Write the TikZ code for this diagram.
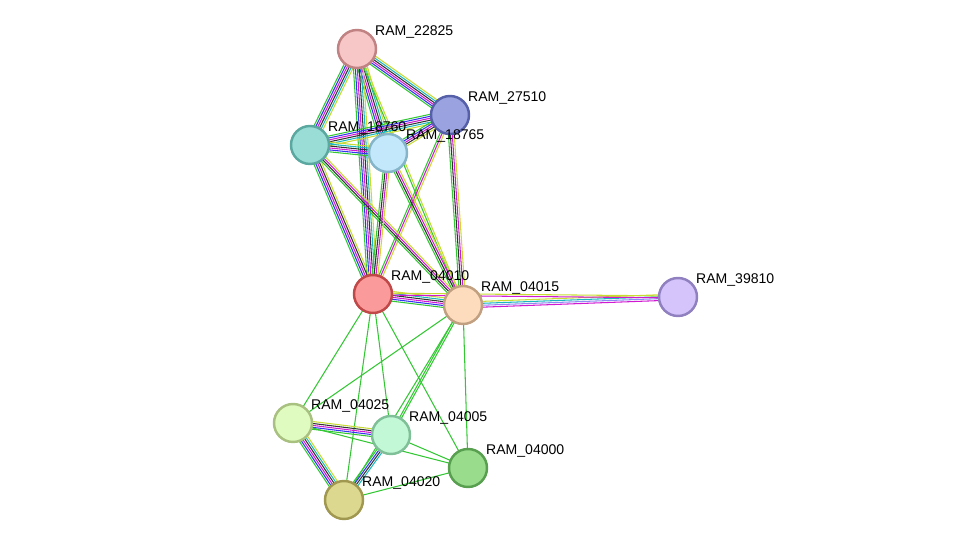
\documentclass[tikz,border=0pt]{standalone}
\usepackage{fontspec}
\setmainfont{Liberation Sans}
\usetikzlibrary{calc,backgrounds}
\definecolor{cgreen}{rgb}{0.2,0.78,0.2}
\definecolor{cblue}{rgb}{0.2,0.2,0.95}
\definecolor{cblack}{rgb}{0.2,0.2,0.2}
\definecolor{cmag}{rgb}{0.82,0.1,0.82}
\definecolor{ccyan}{rgb}{0.1,0.72,0.75}
\definecolor{cyel}{rgb}{0.78,0.86,0.2}
\definecolor{cpur}{rgb}{0.55,0.55,0.95}
\definecolor{f22825}{HTML}{F7C6C6}\definecolor{d22825}{HTML}{C08282}
\definecolor{f27510}{HTML}{9AA3E0}\definecolor{d27510}{HTML}{5560A8}
\definecolor{f18760}{HTML}{99DDD6}\definecolor{d18760}{HTML}{5AA8A0}
\definecolor{f18765}{HTML}{C4E8FB}\definecolor{d18765}{HTML}{85B5C8}
\definecolor{f04010}{HTML}{FB9A9A}\definecolor{d04010}{HTML}{C04848}
\definecolor{f04015}{HTML}{FDDCBD}\definecolor{d04015}{HTML}{C0A080}
\definecolor{f39810}{HTML}{D4C4FB}\definecolor{d39810}{HTML}{9080C0}
\definecolor{f04025}{HTML}{E0FBBF}\definecolor{d04025}{HTML}{A8C080}
\definecolor{f04005}{HTML}{C2F8D6}\definecolor{d04005}{HTML}{80C098}
\definecolor{f04000}{HTML}{98DC8C}\definecolor{d04000}{HTML}{58A050}
\definecolor{f04020}{HTML}{DCD890}\definecolor{d04020}{HTML}{A09850}
\tikzset{
  prot/.style={circle,minimum size=0.76cm,inner sep=0pt,line width=1.4pt,fill=f#1,draw=d#1},
  lbl/.style={font=\fontsize{8}{9.5}\selectfont,inner sep=1pt,xshift=1pt,yshift=-3pt}
}
\newcommand\sedge[3]{%
  \foreach \c [count=\n] in {#3} {\xdef\ncol{\n}}
  \foreach \c [count=\i] in {#3} {
    \pgfmathsetmacro\off{(\i-(\ncol+1)/2)*1.1}
    \draw[\c,line width=0.6pt] ($(#1)!\off pt!90:(#2)$) -- ($(#2)!\off pt!-90:(#1)$);
  }
}
\begin{document}
\begin{tikzpicture}
\useasboundingbox (0,0) rectangle (19.5,10.92);
\node[prot=22825,label={[lbl,anchor=south west]45:RAM\_22825}] (p22825) at (7.14,9.94) {};
\node[prot=27510,label={[lbl,anchor=south west]45:RAM\_27510}] (p27510) at (9.00,8.62) {};
\node[prot=18760,label={[lbl,anchor=south west]45:RAM\_18760}] (p18760) at (6.20,8.02) {};
\node[prot=18765,label={[lbl,anchor=south west]45:RAM\_18765}] (p18765) at (7.76,7.86) {};
\node[prot=04010,label={[lbl,anchor=south west]45:RAM\_04010}] (p04010) at (7.46,5.04) {};
\node[prot=04015,label={[lbl,anchor=south west]45:RAM\_04015}] (p04015) at (9.26,4.82) {};
\node[prot=39810,label={[lbl,anchor=south west]45:RAM\_39810}] (p39810) at (13.56,4.98) {};
\node[prot=04025,label={[lbl,anchor=south west]45:RAM\_04025}] (p04025) at (5.86,2.46) {};
\node[prot=04005,label={[lbl,anchor=south west]45:RAM\_04005}] (p04005) at (7.82,2.22) {};
\node[prot=04000,label={[lbl,anchor=south west]45:RAM\_04000}] (p04000) at (9.36,1.56) {};
\node[prot=04020,label={[lbl,anchor=south west]45:RAM\_04020}] (p04020) at (6.88,0.92) {};
\begin{scope}[on background layer]
% top cluster
\sedge{p22825}{p27510}{cgreen,cblue,cmag,cblack,ccyan,cyel}
\sedge{p22825}{p18760}{cgreen,cblue,cmag,cblack,ccyan,cyel}
\sedge{p22825}{p18765}{cgreen,cblue,cmag,cblack,ccyan,cyel}
\sedge{p22825}{p04010}{cgreen,cblue,cmag,cblack,ccyan,cyel}
\sedge{p22825}{p04015}{cgreen,cyel}
\sedge{p27510}{p18760}{cgreen,cblue,cmag,cblack,ccyan,cyel}
\sedge{p27510}{p18765}{cgreen,cblue,cmag,cblack,cyel}
\sedge{p27510}{p04010}{cgreen,cmag,cyel}
\sedge{p27510}{p04015}{cgreen,cblack,cmag,cyel}
\sedge{p18760}{p18765}{cgreen,cblue,cmag,cblack,ccyan,cyel}
\sedge{p18760}{p04010}{cgreen,cblue,cmag,cblack,cyel}
\sedge{p18760}{p04015}{cgreen,cblack,cmag,cyel}
\sedge{p18765}{p04010}{cgreen,cblack,cmag,cyel}
\sedge{p18765}{p04015}{cgreen,cblack,cmag,cyel}
\sedge{p04010}{p04015}{cgreen,cblue,cmag,cblack,ccyan,cyel}
\sedge{p04015}{p39810}{cmag,cpur,ccyan,cyel}
\sedge{p04010}{p39810}{cmag,cyel}
% bottom cluster
\sedge{p04010}{p04025}{cgreen}
\sedge{p04010}{p04005}{cgreen}
\sedge{p04010}{p04020}{cgreen}
\sedge{p04010}{p04000}{cgreen}
\sedge{p04015}{p04025}{cgreen}
\sedge{p04015}{p04005}{cgreen,cgreen}
\sedge{p04015}{p04000}{cgreen}
\sedge{p04015}{p04020}{cgreen}
\sedge{p04025}{p04005}{cgreen,cblue,cmag,cblack,cyel}
\sedge{p04025}{p04020}{cgreen,cblue,cmag,cblack,ccyan,cyel}
\sedge{p04025}{p04000}{cgreen}
\sedge{p04005}{p04020}{cgreen,cblue,cblack,ccyan}
\sedge{p04005}{p04000}{cgreen}
\sedge{p04020}{p04000}{cgreen}
\end{scope}
\end{tikzpicture}
\end{document}
